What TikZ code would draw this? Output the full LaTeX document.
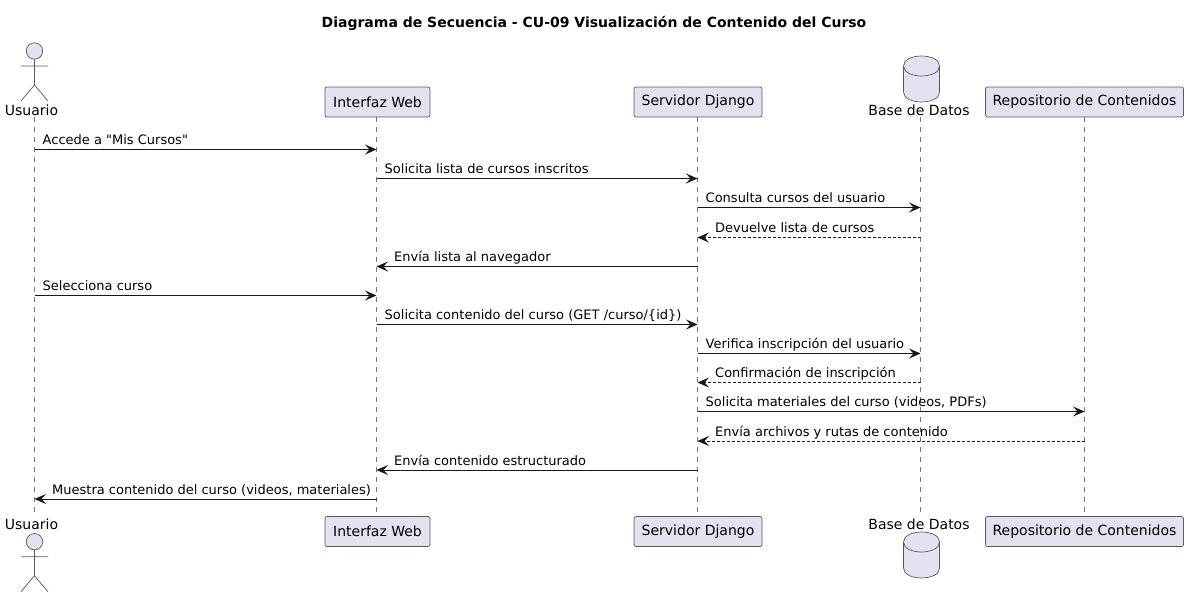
\documentclass[tikz,border=0pt]{standalone}
\usepackage{fontspec}
\setmainfont{DejaVu Sans}[Ligatures=TeXOff]
\usetikzlibrary{arrows.meta}
\definecolor{partfill}{HTML}{E2E2F0}
\definecolor{partline}{HTML}{5A5A5A}
\definecolor{lifegrey}{HTML}{777777}
\definecolor{msgline}{HTML}{181818}
\tikzset{
  partbox/.style={draw=partline,fill=partfill,line width=0.7pt,rounded corners=2pt,minimum height=30pt,inner sep=0pt,font=\fontsize{14}{16}\selectfont},
  partlabel/.style={inner sep=0pt,font=\fontsize{14}{16}\selectfont},
  lifeline/.style={draw=lifegrey,line width=0.6pt,dash pattern=on 5pt off 5pt},
  msgtext/.style={inner sep=0pt,anchor=base west,font=\fontsize{13}{15}\selectfont,text=black},
  call/.style={draw=msgline,line width=0.9pt,-{Stealth[length=11.5pt,width=10pt,inset=4.5pt]}},
  back/.style={call,dash pattern=on 2.5pt off 2.5pt},
  actorfig/.pic={
    \draw[draw=partline,fill=partfill,line width=0.7pt] (0,0) circle (8.2);
    \draw[draw=partline,line width=0.7pt] (0,8.2)--(0,34) (-13.5,15)--(13.5,15) (-13.5,50)--(0,34)--(13.5,50);
  },
  dbfig/.pic={
    \draw[draw=partline,fill=partfill,line width=0.7pt] (-18,10)..controls(-18,-3.3)and(18,-3.3)..(18,10)--(18,36)..controls(18,49.3)and(-18,49.3)..(-18,36)--cycle;
    \draw[draw=partline,line width=0.7pt] (-18,10)..controls(-18,23.3)and(18,23.3)..(18,10);
  }
}
\begin{document}
\begin{tikzpicture}[x=1pt,y=-1pt]
  \useasboundingbox (0,0) rectangle (1188,597);
  \node[font=\bfseries\fontsize{14}{16}\selectfont] (title) at (594,23) {Diagrama de Secuencia - CU-09 Visualización de Contenido del Curso};

  % lifelines
  \coordinate (usuario) at (34.5,0);
  \coordinate (web) at (376.5,0);
  \coordinate (django) at (697.5,0);
  \coordinate (bd) at (920.5,0);
  \coordinate (repo) at (1084.5,0);
  \foreach \p in {usuario,web,django,bd,repo}
    \draw[lifeline] (\p |- 0,117) -- (\p |- 0,516.5);

  % participants, top and bottom
  \foreach \s/\y/\ya/\yd/\yl in {t/102/51/56/110,b/531.5/541.7/532/524}{
    \pic at (34.5,\ya) {actorfig};
    \node[partlabel] (usuario\s) at (31.5,\yl) {Usuario};
    \node[partbox,minimum width=105pt] (web\s) at (377.5,\y) {Interfaz Web};
    \node[partbox,minimum width=128pt] (django\s) at (698,\y) {Servidor Django};
    \pic at (921.5,\yd) {dbfig};
    \node[partlabel] (bd\s) at (919,\yl) {Base de Datos};
    \node[partbox,minimum width=198pt] (repo\s) at (1084.5,\y) {Repositorio de Contenidos};
  }

  % messages
  \foreach \i/\y/\a/\b/\k in {
    1/149.5/usuario/web/call,
    2/178.5/web/django/call,
    3/207.5/django/bd/call,
    4/237.5/bd/django/back,
    5/266.5/django/web/call,
    6/295.5/usuario/web/call,
    7/324.5/web/django/call,
    8/353.5/django/bd/call,
    9/382.5/bd/django/back,
    10/411.5/django/repo/call,
    11/441/repo/django/back,
    12/470/django/web/call,
    13/499/web/usuario/call}{
    \coordinate (m\i a) at (\a |- 0,\y);
    \coordinate (m\i b) at (\b |- 0,\y);
    \draw[\k] (m\i a) -- (m\i b);
  }
  % message texts
  \foreach \i/\txt in {
    1/{Accede a "Mis Cursos"},
    2/{Solicita lista de cursos inscritos},
    3/{Consulta cursos del usuario},
    6/{Selecciona curso},
    7/{Solicita contenido del curso (GET /curso/\{id\})},
    8/{Verifica inscripción del usuario},
    10/{Solicita materiales del curso (videos, PDFs)}}
    \node[msgtext] (t\i) at ([xshift=8pt,yshift=4.6pt]m\i a) {\txt};
  \foreach \i/\txt in {
    4/{Devuelve lista de cursos},
    5/{Envía lista al navegador},
    9/{Confirmación de inscripción},
    11/{Envía archivos y rutas de contenido},
    12/{Envía contenido estructurado},
    13/{Muestra contenido del curso (videos, materiales)}}
    \node[msgtext] (t\i) at ([xshift=17.5pt,yshift=4.8pt]m\i b) {\txt};
\end{tikzpicture}
\end{document}
